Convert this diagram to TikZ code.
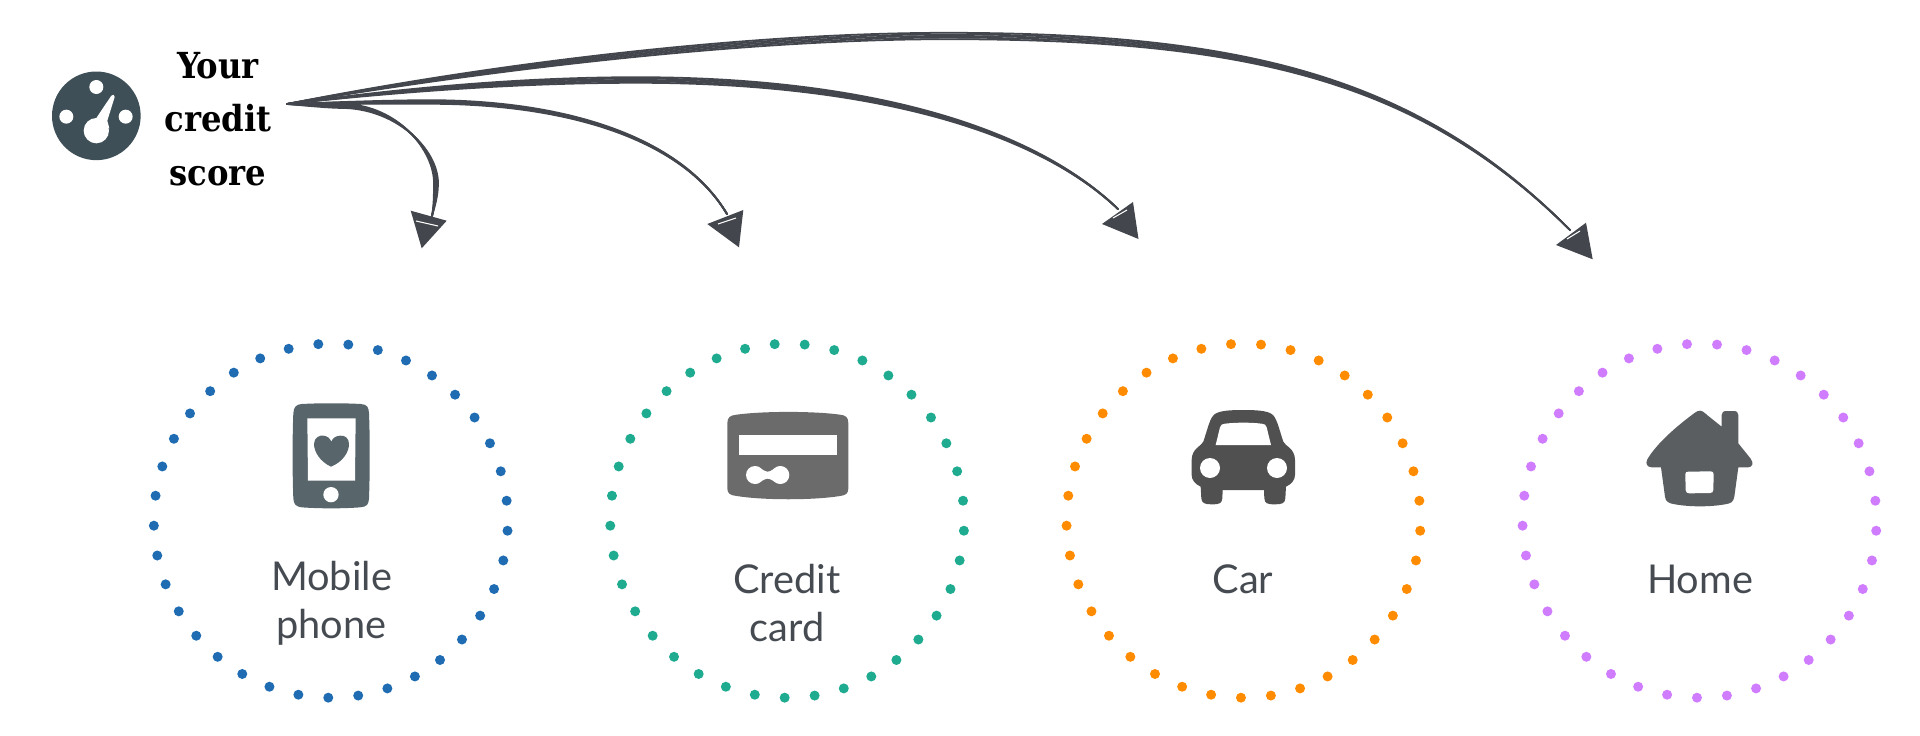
\documentclass[tikz,border=0pt]{standalone}
\usepackage{fontspec}
\setmainfont{Lato}
\newfontfamily\scorefont{DejaVu Serif Condensed}
\definecolor{inkgrey}{HTML}{43474D}
\definecolor{labelgrey}{HTML}{464B52}
\definecolor{meterslate}{HTML}{3E4F57}
\definecolor{phoneslate}{HTML}{58666C}
\definecolor{cardgrey}{HTML}{6B6B6B}
\definecolor{cargrey}{HTML}{505050}
\definecolor{housegrey}{HTML}{5B5E61}
\definecolor{ringblue}{HTML}{1F6CB3}
\definecolor{ringteal}{HTML}{1FAB8F}
\definecolor{ringorange}{HTML}{FF8C00}
\definecolor{ringpurple}{HTML}{D07CFF}

\begin{document}
\begin{tikzpicture}[x=0.01cm, y=-0.01cm,
  scribble/.style={inkgrey, line width=0.5pt, line cap=round},
  scribblehead/.style={inkgrey, line join=round},
  scratch/.style={white, line width=0.3pt},
  ringlabel/.style={labelgrey, align=center, inner sep=0pt, font=\fontsize{11.3}{13.7}\selectfont},
  scorelabel/.style={black, align=center, inner sep=0pt, font=\scorefont\bfseries\fontsize{10.2}{15.3}\selectfont}]
\useasboundingbox (0,0) rectangle (1920,736);

\coordinate (source) at (287,104);
\coordinate (tipphone) at (432,216);
\coordinate (tipcard) at (727,214);
\coordinate (tipcar) at (1118,209);
\coordinate (tiphome) at (1570,230);

\node[scorelabel] (score) at (218,119) {Your\\credit\\score};
\node[ringlabel] (mobile) at (331.5,603) {Mobile\\phone};
\node[ringlabel] (credit) at (787,603) {Credit\\card};
\node[ringlabel] (car) at (1243,579) {Car};
\node[ringlabel] (home) at (1700,579) {Home};

\foreach \cx/\col in {330.8/ringblue, 787.2/ringteal, 1243.5/ringorange, 1699.5/ringpurple}
  \foreach \i in {0,...,36}
    \fill[\col] (\cx,520.7) ++(-94.05+9.73*\i:177) circle (5);

\foreach \d in {-2,-1,0,1,2}
  \draw[scribble] (source) .. controls (310,105+.5*\d) and (330,106+\d) .. (345,106+\d) .. controls (398,108+\d) and (436+\d,150) .. (436+\d,183) .. controls (436+\d,197) and (434+.2*\d,207) .. (tipphone);
\foreach \d in {-1.8,-.9,0,.9,1.8}
  \draw[scribble] (source) .. controls (340,103+.5*\d) and (390,102+\d) .. (430,102+\d) .. controls (560,102+\d) and (680,135+.5*\d) .. (tipcard);
\foreach \d in {-2.8,-1.4,0,1.4,2.8}
  \draw[scribble] (source) .. controls (400,90+.6*\d) and (520,80+\d) .. (637,80+\d) .. controls (860,80+\d) and (1030,125+.5*\d) .. (tipcar);
\foreach \d in {-3.2,-1.6,0,1.6,3.2}
  \draw[scribble] (source) .. controls (500,65+\d) and (750,36+\d) .. (947,36+\d) .. controls (1250,36+\d) and (1420,80+.4*\d) .. (tiphome);

\fill[scribblehead] (421.7,248.3) -- (410.7,210.7) -- (446.7,220.7) -- cycle;
\draw[scratch] (416,221) -- (438,226);
\fill[scribblehead] (707.3,224) -- (743.3,210) -- (739,247.3) -- cycle;
\draw[scratch] (718,224) -- (736,218);
\fill[scribblehead] (1102,224) -- (1133,202) -- (1138.5,239) -- cycle;
\draw[scratch] (1113,218) -- (1127,210);
\fill[scribblehead] (1556,245) -- (1586,222.7) -- (1592.7,259.3) -- cycle;
\draw[scratch] (1567,239) -- (1580,231);

\begin{scope}[scale=1/3]
\fill[meterslate] (289,347.5) circle (133);
\fill[white] (289,261) circle (21);
\fill[white] (199,350) circle (21);
\fill[white] (377,350) circle (21);
\fill[white] (289,392) circle (38);
\fill[white] (268,375) -- (285,360) -- (334,287) .. controls (338,282) and (345,284) .. (344,291) -- (322,362) -- (328,385) -- cycle;
\end{scope}

\begin{scope}[shift={(130,320)}, scale=1/3]
\fill[phoneslate] (515,252) .. controls (570,249) and (640,249) .. (692,252) .. controls (712,253) and (716,262) .. (717,280) .. controls (720,350) and (720,460) .. (717,535) .. controls (716,555) and (710,560) .. (690,562) .. controls (640,566) and (570,566) .. (515,562) .. controls (498,560) and (491,553) .. (490,535) .. controls (487,460) and (487,350) .. (490,280) .. controls (491,262) and (498,253) .. (515,252) -- cycle;
\fill[white] (532,295) -- (677,295) -- (675,482) -- (534,482) -- cycle;
\fill[white] (603,524) circle (23);
\fill[phoneslate] (603,440) .. controls (570,425) and (552,395) .. (552,372) .. controls (552,352) and (570,345) .. (580,347) .. controls (592,348) and (600,355) .. (604,365) .. controls (608,355) and (616,348) .. (630,347) .. controls (645,345) and (657,355) .. (657,372) .. controls (657,395) and (640,425) .. (603,440) -- cycle;
\end{scope}

\begin{scope}[shift={(590,320)}, scale=1/3]
\fill[cardgrey] (440,284) .. controls (520,273) and (670,273) .. (750,284) .. controls (768,286) and (775,292) .. (775,310) -- (775,505) .. controls (775,520) and (768,526) .. (750,528) .. controls (670,541) and (520,541) .. (440,528) .. controls (420,526) and (412,520) .. (412,505) -- (412,310) .. controls (412,292) and (420,286) .. (440,284) -- cycle;
\fill[white] (448,344) rectangle (740,406);
\fill[white] (495,465) circle (27);
\fill[white] (571,465) circle (27);
\fill[white] (500,439) .. controls (515,445) and (523,455) .. (533,455) .. controls (543,455) and (551,445) .. (566,439) -- (566,491) .. controls (551,485) and (543,476) .. (533,476) .. controls (523,476) and (515,485) .. (500,491) -- cycle;
\end{scope}

\begin{scope}[shift={(1050,320)}, scale=1/3]
\fill[cargrey] (580,270) .. controls (620,270) and (650,272) .. (665,282) .. controls (680,292) and (685,320) .. (700,365) .. controls (705,378) and (735,385) .. (735,420) -- (735,465) .. controls (735,480) and (725,492) .. (708,500) -- (706,535) .. controls (705,550) and (695,553) .. (675,553) .. controls (650,553) and (645,550) .. (643,535) -- (642,510) -- (518,510) -- (517,535) .. controls (515,550) and (510,553) .. (485,553) .. controls (465,553) and (455,550) .. (454,535) -- (452,500) .. controls (435,492) and (425,480) .. (425,465) -- (425,420) .. controls (425,385) and (455,378) .. (460,365) .. controls (475,320) and (480,292) .. (495,282) .. controls (510,272) and (540,270) .. (580,270) -- cycle;
\fill[white] (497,375) -- (663,375) -- (650,322) .. controls (648,314) and (644,312) .. (635,311) .. controls (600,307) and (560,307) .. (525,311) .. controls (516,312) and (512,314) .. (510,322) -- cycle;
\fill[white] (480,444) circle (30);
\fill[white] (681,444) circle (30);
\end{scope}

\begin{scope}[shift={(1500,320)}, scale=1/3]
\fill[housegrey] (600,272) .. controls (590,272) and (580,282) .. (565,293) .. controls (530,320) and (470,370) .. (442,418) .. controls (435,432) and (442,441) .. (455,442) -- (483,442) -- (495,530) .. controls (497,545) and (505,550) .. (525,553) .. controls (570,561) and (630,561) .. (675,553) .. controls (695,550) and (700,545) .. (703,530) -- (715,442) -- (745,442) .. controls (757,441) and (762,430) .. (752,416) -- (715,370) -- (715,285) .. controls (715,277) and (710,273) .. (700,273) -- (680,273) .. controls (670,273) and (665,277) .. (665,285) -- (665,320) -- (625,288) .. controls (615,280) and (608,272) .. (600,272) -- cycle;
\fill[white] (565,455) -- (632,454) .. controls (638,454) and (641,457) .. (641,463) -- (640,510) .. controls (640,516) and (636,519) .. (630,519) -- (568,520) .. controls (561,520) and (558,517) .. (557,510) -- (556,463) .. controls (556,457) and (559,455) .. (565,455) -- cycle;
\end{scope}
\end{tikzpicture}
\end{document}
